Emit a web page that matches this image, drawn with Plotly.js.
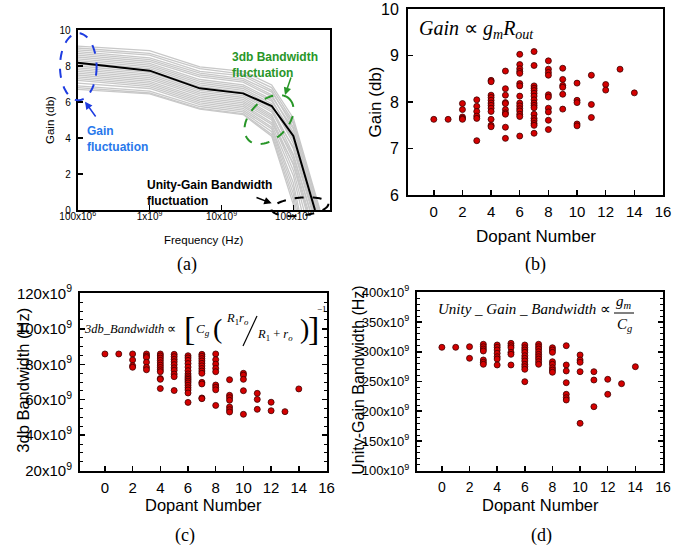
<!DOCTYPE html>
<html>
<head>
<meta charset="utf-8">
<script src="https://cdn.plot.ly/plotly-3.0.1.min.js"></script>
<style>html,body{margin:0;padding:0;background:#fff;}#chart{width:688px;height:548px;}</style>
</head>
<body>
<div id="chart"></div>
<script>
// ---------- Panel (a): frequency response ----------
const freqHz = [1e8, 1e9, 5e9, 2e10, 5e10, 1e11];
const nominalGain = [8.18, 7.74, 6.76, 6.48, 5.78, 4.11];
const nominalZeroFreq = 2.0e11;
const grayGain = [
  [9.10, 8.85, 7.95, 7.70, 6.95, 5.10],
  [9.00, 8.70, 7.85, 7.55, 6.80, 4.90],
  [8.90, 8.60, 7.70, 7.45, 6.65, 4.60],
  [8.80, 8.45, 7.60, 7.30, 6.55, 4.80],
  [8.70, 8.35, 7.50, 7.20, 6.40, 4.30],
  [8.60, 8.25, 7.40, 7.10, 6.30, 4.50],
  [8.50, 8.15, 7.25, 6.95, 6.15, 4.00],
  [8.40, 8.05, 7.15, 6.85, 6.05, 4.20],
  [8.30, 7.95, 7.05, 6.75, 5.90, 3.70],
  [8.20, 7.85, 6.95, 6.65, 5.80, 3.90],
  [8.10, 7.75, 6.85, 6.55, 5.65, 3.40],
  [8.00, 7.65, 6.75, 6.45, 5.55, 3.10],
  [7.90, 7.55, 6.65, 6.35, 5.45, 3.50],
  [7.80, 7.45, 6.55, 6.25, 5.30, 2.80],
  [7.70, 7.35, 6.45, 6.15, 5.20, 3.00],
  [7.60, 7.25, 6.35, 6.05, 5.10, 2.50],
  [7.50, 7.15, 6.25, 5.95, 5.00, 2.20],
  [7.40, 7.05, 6.15, 5.85, 4.85, 2.60],
  [7.30, 6.95, 6.05, 5.75, 4.75, 1.90],
  [7.20, 6.85, 5.95, 5.65, 4.60, 1.50],
  [7.05, 6.75, 5.85, 5.55, 4.50, 1.20],
  [6.90, 6.60, 5.75, 5.45, 4.35, 0.90],
  [6.80, 6.50, 5.65, 5.35, 4.20, 0.60],
  [6.70, 6.45, 5.60, 5.30, 4.10, 0.30]
];
const grayZeroFreq = [2.35e11, 2.3e11, 2.2e11, 2.3e11, 2.1e11, 2.2e11, 2.0e11, 2.1e11,
  1.9e11, 2.0e11, 1.8e11, 1.7e11, 1.85e11, 1.6e11, 1.7e11, 1.5e11, 1.4e11, 1.55e11,
  1.3e11, 1.2e11, 1.15e11, 1.1e11, 1.05e11, 1.02e11];
const freqTickVals = [1e8, 1e9, 1e10, 1e11];
const freqTickText = ['100x10<sup>6</sup>', '1x10<sup>9</sup>', '10x10<sup>9</sup>', '100x10<sup>9</sup>'];

// ---------- Panels (b)-(d): vs dopant number ----------
const dopantNumbers = [0,1,2,3,4,5,6,7,8,9,10,11,12,13,14];
const gainDb = [
  [7.63],
  [7.63],
  [7.97, 7.84, 7.68, 7.65, 7.63],
  [8.05, 7.91, 7.80, 7.70, 7.65, 7.17],
  [8.47, 8.44, 8.15, 8.10, 8.04, 7.98, 7.93, 7.87, 7.80, 7.63, 7.50, 7.47],
  [8.67, 8.29, 8.15, 7.99, 7.97, 7.84, 7.77, 7.74, 7.46, 7.22],
  [9.03, 8.81, 8.72, 8.66, 8.62, 8.40, 8.35, 8.13, 7.98, 7.92, 7.86, 7.81, 7.74, 7.69, 7.27],
  [9.09, 8.79, 8.35, 8.30, 8.25, 8.19, 8.13, 8.05, 7.98, 7.93, 7.88, 7.74, 7.65, 7.60, 7.54, 7.50, 7.33],
  [8.89, 8.71, 8.64, 8.58, 8.16, 8.11, 7.87, 7.79, 7.61, 7.41],
  [8.73, 8.49, 8.36, 8.32, 8.17, 7.85],
  [8.41, 8.04, 7.99, 7.53, 7.49],
  [8.58, 7.95, 7.67],
  [8.38, 8.26],
  [8.71],
  [8.20]
];
const bw3dbGHz = [
  [85.8],
  [85.8],
  [85.8, 82.4, 79.2, 78.3],
  [85.8, 84.6, 83.8, 81.1, 78.3, 76.9],
  [85.8, 84.7, 83.5, 82.2, 80.8, 79.5, 78.2, 76.9, 75.8, 72.0, 71.5, 66.3],
  [85.6, 84.3, 82.8, 81.4, 79.8, 78.0, 76.6, 74.5, 73.0, 65.2],
  [84.8, 83.6, 82.2, 80.4, 78.4, 76.4, 74.6, 73.4, 72.4, 71.5, 70.5, 69.5, 68.2, 66.8, 65.5, 63.8, 58.5],
  [85.6, 84.5, 83.2, 81.9, 80.5, 79.1, 77.6, 76.2, 74.9, 69.8, 68.9, 61.0, 60.6],
  [85.8, 82.6, 80.1, 77.7, 75.8, 68.3, 67.0, 65.6, 56.8],
  [71.3, 62.5, 61.2, 59.7, 55.9, 54.4, 53.1],
  [74.9, 73.9, 71.5, 65.1, 51.8],
  [63.6, 60.2, 54.6],
  [58.6, 53.8],
  [53.3],
  [66.1]
];
const ugbGHz = [
  [307.5],
  [307.5],
  [308.5, 289.0],
  [312.6, 308.5, 304.7, 301.3, 286.2, 282.3, 278.9],
  [311.4, 307.5, 303.0, 297.4, 291.7, 287.8, 277.8],
  [314.2, 310.2, 306.8, 299.0, 295.7, 277.8],
  [311.4, 306.8, 303.0, 299.0, 293.4, 289.0, 284.5, 278.9, 274.9, 270.5, 249.7],
  [312.6, 308.5, 304.7, 300.1, 295.7, 291.7, 287.8, 283.3, 278.9],
  [306.8, 303.0, 299.0, 283.3, 278.9, 273.2, 269.3, 265.5],
  [310.2, 277.8, 267.7, 248.0, 228.5, 222.8, 218.9],
  [294.6, 286.2, 282.3, 266.5, 179.7],
  [266.5, 252.5, 207.6],
  [253.7, 228.5],
  [246.3],
  [274.9]
];
const bwTickVals = [20, 40, 60, 80, 100, 120];
const ugbTickVals = [100, 150, 200, 250, 300, 350, 400];

// ---------- build ----------
const W = 688, H = 548;
const px = x => x / W;
const py = y => 1 - y / H;
const SANS = 'Liberation Sans, Arial, sans-serif';
const SERIF = 'Liberation Serif, Times New Roman, serif';

function flatten(groups) {
  const xs = [], ys = [];
  groups.forEach((g, i) => g.forEach(v => { xs.push(dopantNumbers[i]); ys.push(v); }));
  return {xs, ys};
}

const traces = [];
grayGain.forEach((g, i) => {
  traces.push({x: freqHz.concat([grayZeroFreq[i]]), y: g.concat([0]), xaxis: 'x', yaxis: 'y',
    mode: 'lines', line: {color: 'rgb(200,200,200)', width: 1.3}, hoverinfo: 'skip'});
});
traces.push({x: freqHz.concat([nominalZeroFreq]), y: nominalGain.concat([0]), xaxis: 'x', yaxis: 'y',
  mode: 'lines', line: {color: '#000', width: 2}});

const mk = {color: 'rgb(212,0,0)', size: 6, line: {color: 'rgb(60,0,0)', width: 0.8}};
[[gainDb, 'x2', 'y2'], [bw3dbGHz, 'x3', 'y3'], [ugbGHz, 'x4', 'y4']].forEach(([grp, xa, ya]) => {
  const f = flatten(grp);
  traces.push({x: f.xs, y: f.ys, xaxis: xa, yaxis: ya, mode: 'markers', marker: mk});
});

const axBase = {showline: true, linewidth: 2, linecolor: '#000', mirror: true, ticks: 'inside',
  ticklen: 5, tickwidth: 1.5, tickcolor: '#000', showgrid: false, zeroline: false, fixedrange: true};

function ax(extra) { return Object.assign({}, axBase, extra); }

const dopantX = (d0, d1, fs) => ax({domain: [px(d0), px(d1)], range: [-1.8, 16], tick0: 0, dtick: 2,
  tickfont: {family: SANS, size: fs, color: '#000'}, ticklabelstandoff: 2});

const layout = {
  width: W, height: H, margin: {l: 0, r: 0, t: 0, b: 0}, showlegend: false,
  paper_bgcolor: '#fff', plot_bgcolor: '#fff',
  xaxis: ax({domain: [px(77.7), px(330)], type: 'log', range: [8, 11.51], anchor: 'y',
    tickvals: freqTickVals, ticktext: freqTickText, tickfont: {family: SANS, size: 10, color: '#000'}, ticklabelstandoff: -4}),
  yaxis: ax({domain: [py(210), py(30)], range: [0, 10], dtick: 2, anchor: 'x',
    tickfont: {family: SANS, size: 10, color: '#000'}, ticklabelstandoff: 3}),
  xaxis2: Object.assign(dopantX(408, 663, 15), {anchor: 'y2'}),
  yaxis2: ax({domain: [py(195), py(9.3)], range: [6, 10], dtick: 1, anchor: 'x2',
    tickfont: {family: SANS, size: 16, color: '#000'}, ticklabelstandoff: 4}),
  xaxis3: Object.assign(dopantX(80, 326.5, 15), {anchor: 'y3'}),
  yaxis3: ax({domain: [py(470.7), py(293.3)], range: [20, 120], anchor: 'x3', mirror: 'ticks',
    tickvals: bwTickVals, ticktext: bwTickVals.map(v => v + 'x10<sup>9</sup>'),
    tickfont: {family: SANS, size: 15, color: '#000'}, ticklabelstandoff: 3,
    minor: {ticks: 'inside', dtick: 5, ticklen: 3, tickwidth: 1, tickcolor: '#000'}}),
  xaxis4: Object.assign(dopantX(417, 663, 14), {anchor: 'y4'}),
  yaxis4: ax({domain: [py(470.7), py(292.3)], range: [100, 400], anchor: 'x4', mirror: 'ticks',
    tickvals: ugbTickVals, ticktext: ugbTickVals.map(v => v + 'x10<sup>9</sup>'),
    tickfont: {family: SANS, size: 13, color: '#000'}, ticklabelstandoff: 3,
    minor: {ticks: 'inside', dtick: 10, ticklen: 3, tickwidth: 1, tickcolor: '#000'}}),
  annotations: [], shapes: []
};

function txt(x, y, text, opts) {
  layout.annotations.push(Object.assign({x: px(x), y: py(y), xref: 'paper', yref: 'paper', text: text,
    showarrow: false, xanchor: 'center', yanchor: 'middle', borderpad: 0}, opts));
}
function arrow(x0, y0, x1, y1, color) {
  layout.annotations.push({x: px(x1), y: py(y1), xref: 'paper', yref: 'paper', ax: x0 - x1, ay: y0 - y1,
    axref: 'pixel', ayref: 'pixel', text: '', showarrow: true, arrowhead: 2, arrowsize: 1, arrowwidth: 1.5,
    arrowcolor: color, standoff: 0});
}
function ellipse(cx, cy, a, b, angDeg, color, width) {
  const t = angDeg * Math.PI / 180, pts = [];
  for (let k = 0; k <= 72; k++) {
    const u = k / 72 * 2 * Math.PI;
    const ex = a * Math.cos(u), ey = b * Math.sin(u);
    const X = cx + ex * Math.cos(t) - ey * Math.sin(t);
    const Y = cy + ex * Math.sin(t) + ey * Math.cos(t);
    pts.push(px(X).toFixed(5) + ',' + py(Y).toFixed(5));
  }
  layout.shapes.push({type: 'path', xref: 'paper', yref: 'paper', path: 'M' + pts.join('L') + 'Z',
    line: {color: color, width: width, dash: 'dash'}});
}

// panel (a) decorations
const BLUE = 'rgb(30,60,225)', BLUET = 'rgb(40,120,235)', GREEN = 'rgb(40,150,40)';
ellipse(78.3, 66.7, 18.3, 33.5, 0, BLUE, 2);
ellipse(269, 119.5, 29, 19, -45, GREEN, 2);
ellipse(300, 206.7, 28.5, 9, -6, '#000', 2);
arrow(96.7, 118, 85, 101.7, BLUE);
arrow(291.5, 76, 285, 95, GREEN);
arrow(255, 197, 271.7, 203.3, '#000');
const bold12 = c => ({family: SANS, size: 12, color: c, weight: 'bold'});
txt(86, 139, '<b>Gain</b><br><b>fluctuation</b>', {xanchor: 'left', align: 'left', font: bold12(BLUET)});
txt(231, 65.5, '<b>3db Bandwidth</b><br><b>fluctuation</b>', {xanchor: 'left', align: 'left', font: bold12(GREEN)});
txt(146, 193.3, '<b>Unity-Gain Bandwidth</b><br><b>fluctuation</b>', {xanchor: 'left', align: 'left', font: bold12('#000')});

// axis titles
txt(50, 120, 'Gain (db)', {textangle: -90, font: {family: SANS, size: 11.5, color: '#000'}});
txt(203.5, 239.5, 'Frequency (Hz)', {font: {family: SANS, size: 11.5, color: '#000'}});
txt(375.7, 101.7, 'Gain (db)', {textangle: -90, font: {family: SANS, size: 17, color: '#000'}});
txt(535.7, 236, 'Dopant Number', {font: {family: SANS, size: 17, color: '#000'}});
txt(22.7, 380, '3db Bandwidth (Hz)', {textangle: -90, font: {family: SANS, size: 16.5, color: '#000'}});
txt(203, 505, 'Dopant Number', {font: {family: SANS, size: 16.5, color: '#000'}});
txt(359, 380.7, 'Unity-Gain Bandwidth (Hz)', {textangle: -90, font: {family: SANS, size: 16, color: '#000'}});
txt(540, 505, 'Dopant Number', {font: {family: SANS, size: 16.5, color: '#000'}});

// panel labels
const lab = {family: SERIF, size: 18, color: '#000'};
txt(186.7, 265, '(a)', {font: lab});
txt(535.7, 265, '(b)', {font: lab});
txt(185, 535, '(c)', {font: lab});
txt(541, 535, '(d)', {font: lab});

// equations
const ser = s => ({family: SERIF, size: s, color: '#000'});
txt(418, 30, '<i>Gain</i> ∝ <i>g</i><sub><i>m</i></sub><i>R</i><sub><i>out</i></sub>', {xanchor: 'left', font: ser(20)});

txt(83, 329, '<i>3db</i>_<i>Bandwidth</i> ∝', {xanchor: 'left', font: ser(12.5)});
txt(189, 328, '[', {font: ser(34)});
txt(203, 329, '<i>C</i><sub><i>g</i></sub>', {font: ser(13)});
txt(217.5, 328, '(', {font: ser(28)});
txt(237, 319, '<i>R</i><sub>1</sub><i>r</i><sub><i>o</i></sub>', {font: ser(12.5)});
layout.shapes.push({type: 'line', xref: 'paper', yref: 'paper', x0: px(243), y0: py(346), x1: px(257), y1: py(316),
  line: {color: '#000', width: 1.2}});
txt(275, 335, '<i>R</i><sub>1</sub> + <i>r</i><sub><i>o</i></sub>', {font: ser(12.5)});
txt(304, 328, ')', {font: ser(28)});
txt(313, 328, ']', {font: ser(34)});
txt(322, 309, '−1', {font: ser(9)});

txt(437, 309, '<i>Unity</i> _ <i>Gain</i> _ <i>Bandwidth</i> ∝', {xanchor: 'left', font: ser(15)});
txt(624, 301.5, '<i>g</i><sub><i>m</i></sub>', {font: ser(15)});
layout.shapes.push({type: 'line', xref: 'paper', yref: 'paper', x0: px(614), y0: py(313), x1: px(634), y1: py(313),
  line: {color: '#000', width: 1}});
txt(624, 324.5, '<i>C</i><sub><i>g</i></sub>', {font: ser(15)});

Plotly.newPlot('chart', traces, layout, {displayModeBar: false, staticPlot: true});
</script>
</body>
</html>
